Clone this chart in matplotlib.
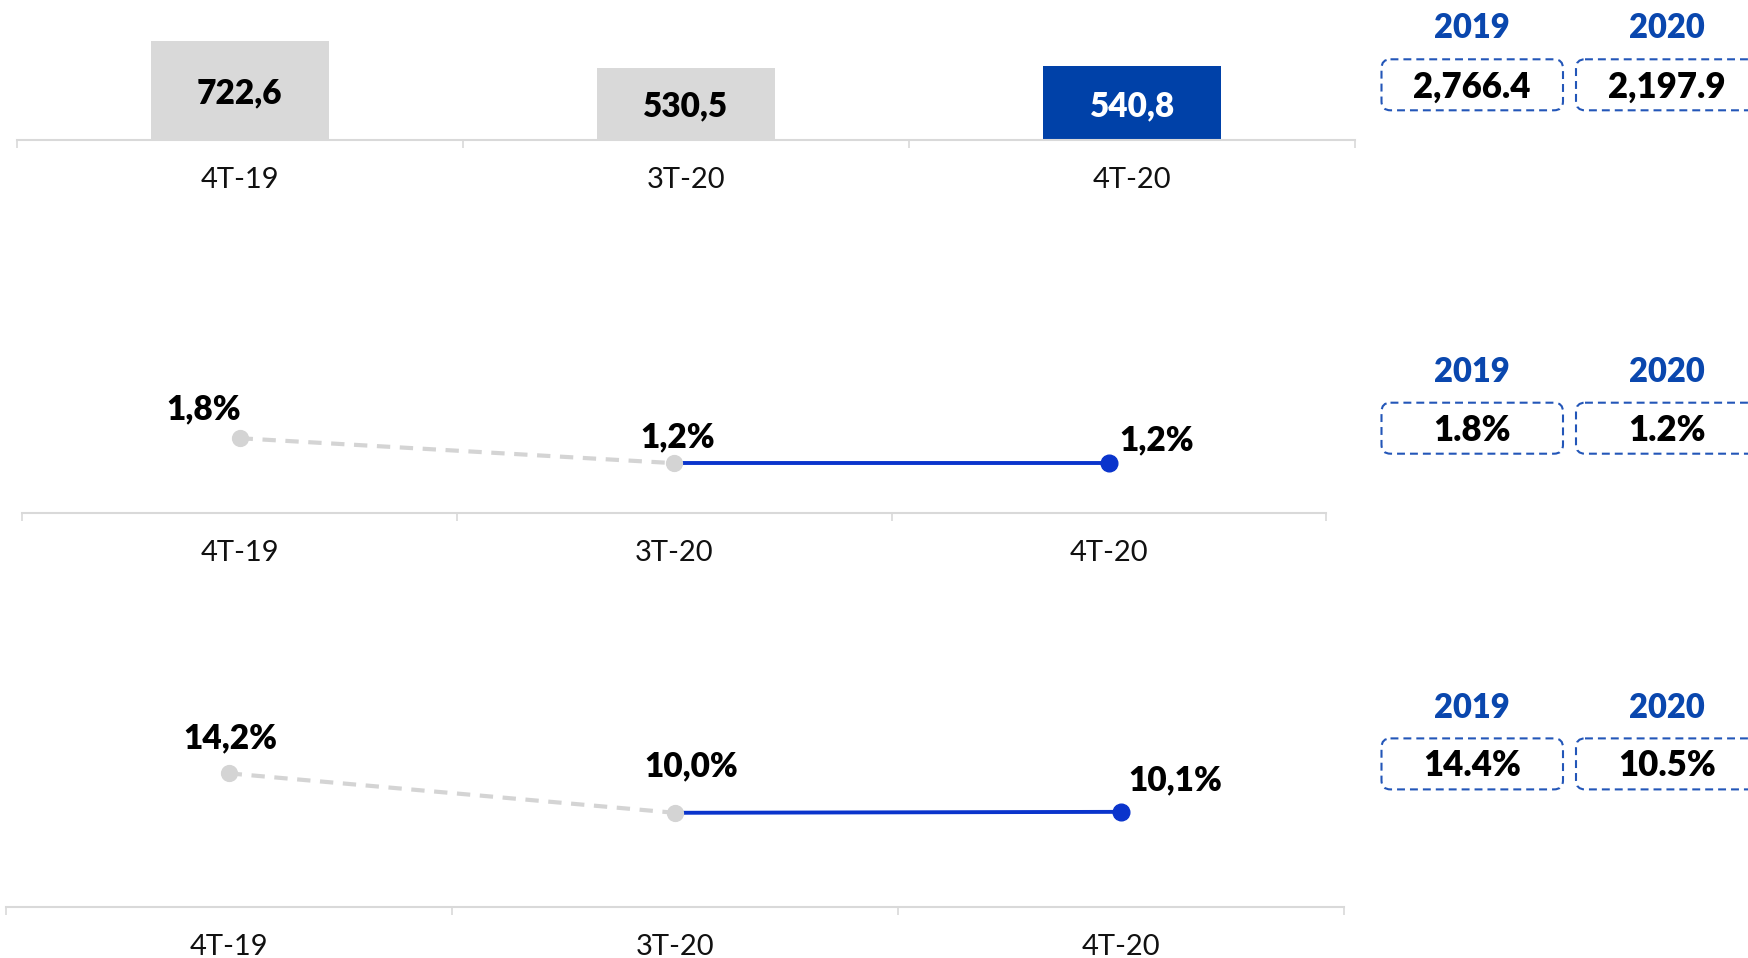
import matplotlib.pyplot as plt
from matplotlib.patches import FancyBboxPatch

# quarterly data
quarters = ["4T-19", "3T-20", "4T-20"]
sales = [722.6, 530.5, 540.8]
margin_a = [1.8, 1.2, 1.2]
margin_b = [14.2, 10.0, 10.1]

# yearly totals shown in the side boxes
years = ["2019", "2020"]
sales_year = [2766.4, 2197.9]
margin_a_year = [1.8, 1.2]
margin_b_year = [14.4, 10.5]

BLUE_BAR = "#0041A8"
BLUE_LINE = "#0A34CC"
BLUE_TXT = "#0A47AE"
GRAY = "#D9D9D9"
GRAY_LINE = "#D4D4D4"

BOLD = ["Lato", "DejaVu Sans"]
LIGHT = ["Lato", "DejaVu Sans"]
HEAVY = "heavy"

W, H = 1749, 958
fig = plt.figure(figsize=(W / 100, H / 100), dpi=100)
fig.patch.set_facecolor("white")


def ax_px(left, base, width, height):
    # axes placed in pixel units, "base" = y of the axis line from the top
    return fig.add_axes([left / W, 1 - base / H, width / W, height / H])


def style_axis(ax, ymax):
    ax.set_xlim(-0.5, 2.5)
    ax.set_ylim(0, ymax)
    ax.patch.set_alpha(0)
    for s in ["top", "right", "left"]:
        ax.spines[s].set_visible(False)
    ax.spines["bottom"].set_color(GRAY)
    ax.spines["bottom"].set_linewidth(1.5)
    ax.set_yticks([])
    ax.set_xticks([])
    ax.set_xticks([-0.5, 0.5, 1.5, 2.5], minor=True)
    ax.tick_params(axis="x", which="minor", length=6, width=1.2,
                   color=GRAY, labelbottom=False)
    for i, q in enumerate(quarters):
        ax.annotate(q, (i, 0), xytext=(0, -48), textcoords="offset pixels",
                    ha="center", va="baseline", fontsize=21,
                    family=LIGHT, fontweight="normal", color="#111111",
                    annotation_clip=False)


def fmt(v, pct=False):
    s = f"{v:.1f}".replace(".", ",")
    return s + "%" if pct else s


def line_panel(ax, vals, offsets):
    x = list(range(len(vals)))
    ax.plot(x[1:], vals[1:], color=BLUE_LINE, lw=2.8, zorder=2)
    ax.plot(x[2:], vals[2:], "o", color=BLUE_LINE, ms=12, zorder=3)
    ax.plot(x[:2], vals[:2], color=GRAY_LINE, lw=3, dashes=(3.2, 2.3),
            zorder=2)
    ax.plot(x[:2], vals[:2], "o", color=GRAY_LINE, ms=11.4, zorder=4)
    for i, v in enumerate(vals):
        ax.annotate(fmt(v, True), (i, v), xytext=offsets[i],
                    textcoords="offset pixels", ha="center", va="baseline",
                    fontsize=24, fontweight=HEAVY, family=BOLD,
                    color="black", annotation_clip=False)


# top panel: bars
ax1 = ax_px(16.7, 140.5, 1338.6, 140.5)
style_axis(ax1, 1023)
bar_colors = [GRAY, GRAY, BLUE_BAR]
ax1.bar(range(3), sales, width=0.4, color=bar_colors, zorder=1)
for i, v in enumerate(sales):
    ax1.annotate(fmt(v), (i, v / 2), xytext=(0, -12.5),
                 textcoords="offset pixels", ha="center", va="baseline",
                 fontsize=24, fontweight=HEAVY, family=BOLD,
                 color="white" if i == 2 else "black")

# middle panel
ax2 = ax_px(22.3, 513.1, 1303.9, 124.8)
style_axis(ax2, 3)
line_panel(ax2, margin_a, [(-36, 19), (3, 16), (48, 13)])

# bottom panel
ax3 = ax_px(5.6, 906.8, 1338.4, 150.4)
style_axis(ax3, 16)
line_panel(ax3, margin_b, [(2, 25), (16, 36), (54, 22)])

# side boxes with yearly totals
ov = fig.add_axes([0, 0, 1, 1], zorder=-1)
ov.set_xlim(0, W)
ov.set_ylim(H, 0)
ov.axis("off")

box_x = [1381.5, 1576]
box_w = 181.5
rows = [
    (38.3, 59.3, [f"{v:,.1f}" for v in sales_year]),
    (382.4, 402.7, [f"{v:.1f}%" for v in margin_a_year]),
    (718.0, 738.4, [f"{v:.1f}%" for v in margin_b_year]),
]
box_h = 51
for year_base, box_top, labels in rows:
    for j in range(2):
        cx = box_x[j] + box_w / 2
        ov.text(cx, year_base, years[j], ha="center", va="baseline",
                fontsize=23.5, fontweight=HEAVY, family=BOLD, color=BLUE_TXT)
        ov.add_patch(FancyBboxPatch((box_x[j], box_top), box_w, box_h,
                                    boxstyle="round,pad=0,rounding_size=9",
                                    fill=False, edgecolor="#2356B8", lw=1.5,
                                    linestyle=(0, (3.8, 2.4))))
        ov.text(cx, box_top + 38, labels[j], ha="center", va="baseline",
                fontsize=25, fontweight=HEAVY, family=BOLD, color="black")

fig.savefig("out.png", dpi=100)
